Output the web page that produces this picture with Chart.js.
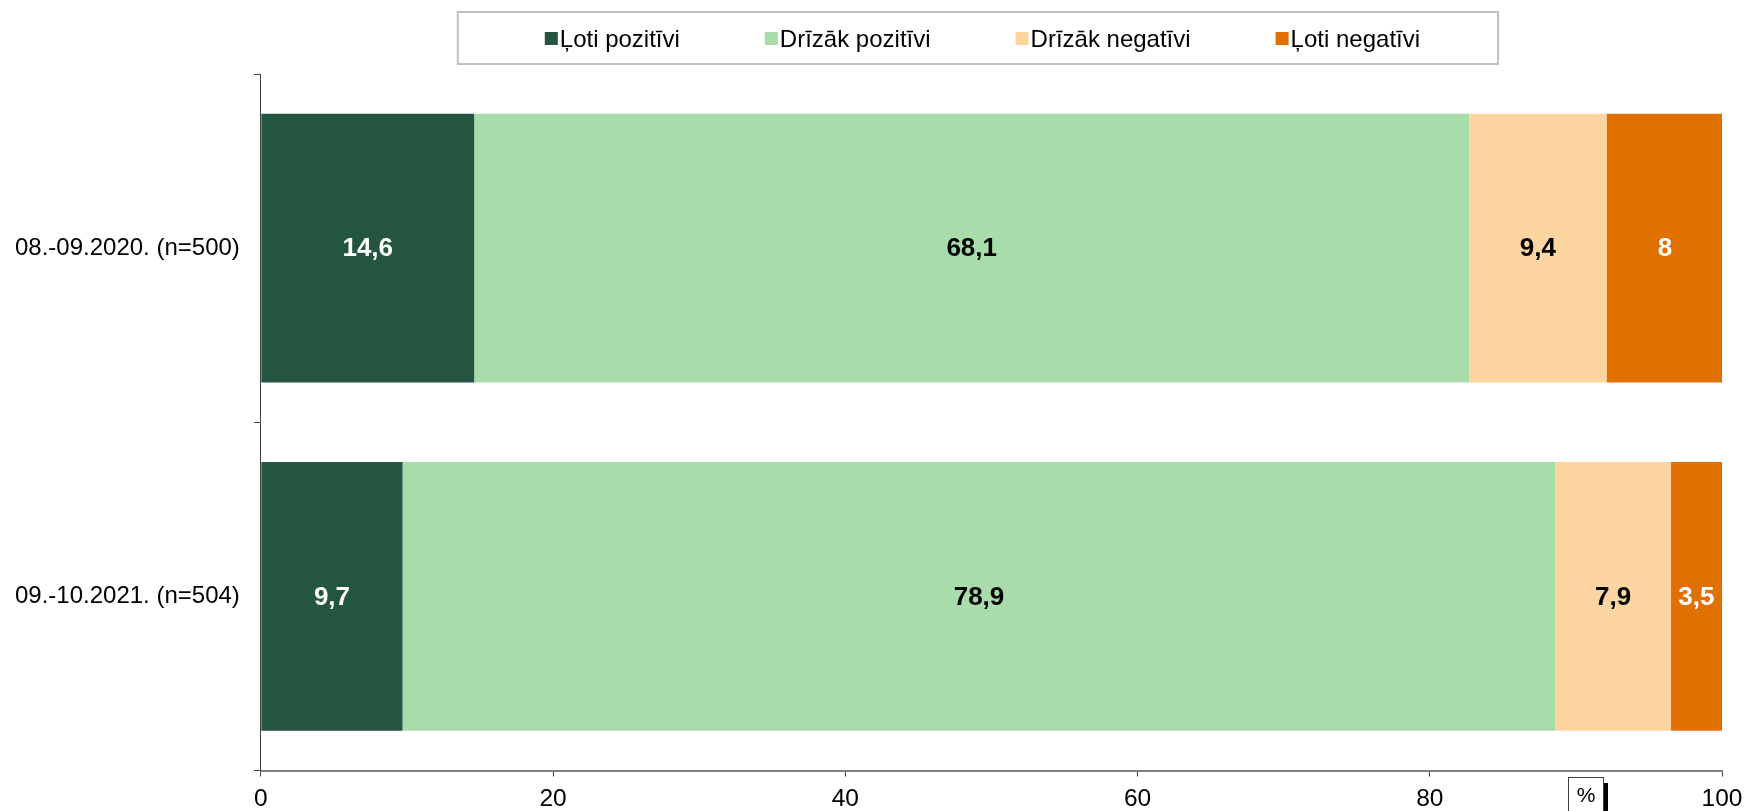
<!DOCTYPE html>
<html><head><meta charset="utf-8">
<script src="https://cdn.jsdelivr.net/npm/chart.js@4.4.1/dist/chart.umd.min.js"></script>
<style>html,body{margin:0;padding:0;background:#fff;}canvas{display:block;}</style>
</head><body>
<canvas id="c" width="1744" height="811"></canvas>
<script>
// ---- data ----
const categories = ['08.-09.2020. (n=500)', '09.-10.2021. (n=504)'];
const seriesNames = ['Ļoti pozitīvi', 'Drīzāk pozitīvi', 'Drīzāk negatīvi', 'Ļoti negatīvi'];
const veryPositive = [14.6, 9.7];
const ratherPositive = [68.1, 78.9];
const ratherNegative = [9.4, 7.9];
const veryNegative = [8, 3.5];
const xTicks = [0, 20, 40, 60, 80, 100];
const unitLabel = '%';

// ---- styles ----
const colors = ['#245540', '#a8dcab', '#fdd5a0', '#e07000'];
const labelColors = ['#ffffff', '#000000', '#000000', '#ffffff'];
const FONT = '"Liberation Sans", Arial, sans-serif';

const seriesValues = [veryPositive, ratherPositive, ratherNegative, veryNegative];

const boxLegend = {
  id: 'boxLegend',
  afterDraw(chart) {
    const ctx = chart.ctx;
    const ds = chart.data.datasets;
    ctx.save();
    ctx.font = '24px ' + FONT;
    const sq = 13, gapText = 2, gapItem = 85;
    const widths = ds.map(d => sq + gapText + ctx.measureText(d.label).width);
    const total = widths.reduce((a, b) => a + b, 0) + gapItem * (ds.length - 1);
    const ca = chart.chartArea;
    const cx = (ca.left + ca.right) / 2 - 9;
    let x = cx - total / 2;
    ctx.strokeStyle = '#c0c0c0';
    ctx.lineWidth = 2;
    ctx.strokeRect(x - 87, 12, total + 165, 52);
    ctx.textBaseline = 'alphabetic';
    ctx.textAlign = 'left';
    ds.forEach((d, i) => {
      ctx.fillStyle = d.backgroundColor;
      ctx.fillRect(x, 32, sq, sq);
      ctx.fillStyle = '#000';
      ctx.fillText(d.label, x + sq + gapText, 47);
      x += widths[i] + gapItem;
    });
    ctx.restore();
  }
};

const valueLabels = {
  id: 'valueLabels',
  afterDatasetsDraw(chart) {
    const ctx = chart.ctx;
    ctx.save();
    ctx.font = 'bold 26px ' + FONT;
    ctx.textAlign = 'center';
    ctx.textBaseline = 'middle';
    chart.data.datasets.forEach((d, i) => {
      const meta = chart.getDatasetMeta(i);
      meta.data.forEach((el, j) => {
        const v = d.data[j];
        const p = el.getProps(['x', 'y', 'base'], true);
        ctx.fillStyle = labelColors[i];
        ctx.fillText(String(v).replace('.', ','), (p.x + p.base) / 2, p.y + 1);
      });
    });
    ctx.restore();
  }
};

const unitBox = {
  id: 'unitBox',
  afterDraw(chart) {
    const ctx = chart.ctx;
    const xR = chart.scales.x.getPixelForValue(100);
    const bx = Math.round(xR - 154), by = 777, bw = 35, bh = 40;
    ctx.save();
    ctx.fillStyle = '#000';
    ctx.fillRect(bx + bw, by + 6, 5, bh);
    ctx.fillStyle = '#fff';
    ctx.fillRect(bx, by, bw, bh);
    ctx.strokeStyle = '#404040';
    ctx.lineWidth = 1;
    ctx.strokeRect(bx + 0.5, by + 0.5, bw, bh);
    ctx.fillStyle = '#000';
    ctx.font = '21px ' + FONT;
    ctx.textAlign = 'center';
    ctx.textBaseline = 'middle';
    ctx.fillText(unitLabel, bx + bw / 2 + 0.5, 796);
    ctx.restore();
  }
};

new Chart(document.getElementById('c'), {
  type: 'bar',
  data: {
    labels: categories,
    datasets: seriesNames.map((name, i) => ({
      label: name,
      data: seriesValues[i],
      backgroundColor: colors[i],
      borderWidth: 0,
      barPercentage: 0.772,
      categoryPercentage: 1
    }))
  },
  options: {
    indexAxis: 'y',
    responsive: false,
    animation: false,
    layout: { padding: { top: 74, right: 0, bottom: -10, left: 1 } },
    plugins: {
      legend: { display: false },
      tooltip: { enabled: false }
    },
    scales: {
      x: {
        stacked: true, min: 0, max: 100,
        afterBuildTicks: (s) => { s.ticks = xTicks.map(v => ({ value: v })); },
        afterFit: (s) => { s.paddingRight = 22; },
        grid: { display: true, drawOnChartArea: false, drawTicks: true, tickLength: 6, color: '#404040', lineWidth: 1 },
        border: { display: true, color: '#808080', width: 2 },
        ticks: { font: { family: FONT, size: 24.5, lineHeight: 1 }, color: '#000', padding: 10, maxRotation: 0 }
      },
      y: {
        stacked: true,
        grid: { display: true, drawOnChartArea: false, drawTicks: true, tickLength: 7, color: '#404040', offset: true },
        border: { display: true, color: '#404040', width: 1 },
        ticks: { font: { family: FONT, size: 24 }, color: '#000', padding: 14 }
      }
    }
  },
  plugins: [valueLabels, boxLegend, unitBox]
});
</script>
</body></html>
